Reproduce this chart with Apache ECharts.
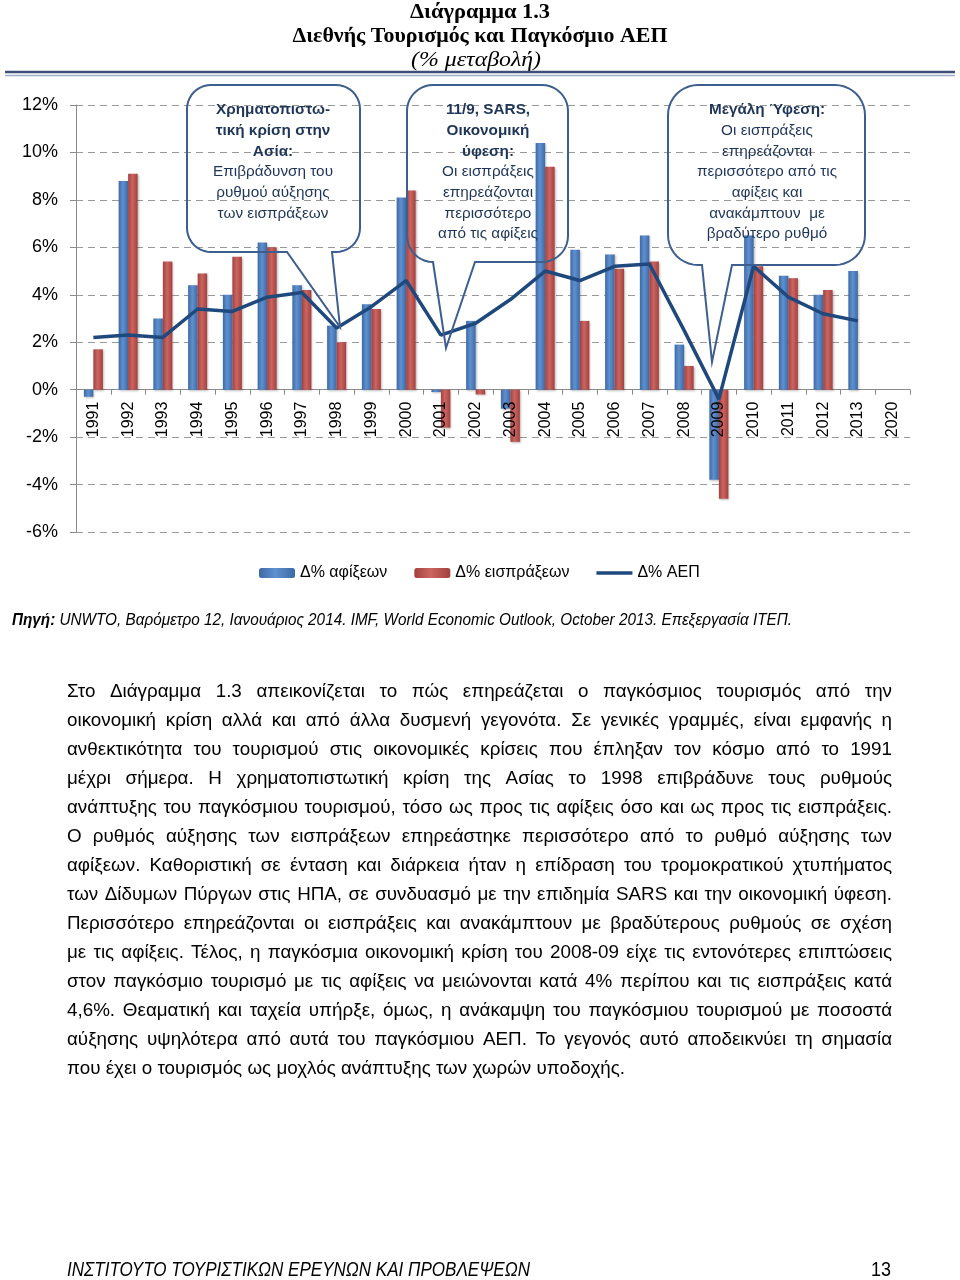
<!DOCTYPE html>
<html><head><meta charset="utf-8">
<script src="https://cdn.jsdelivr.net/npm/echarts@6/dist/echarts.min.js"></script>
<style>html,body{margin:0;padding:0;background:#fff}#c{width:960px;height:1280px}</style>
</head><body><div id="c"></div>
<script>
// ---------- DATA ----------
const years = ['1991','1992','1993','1994','1995','1996','1997','1998','1999','2000','2001','2002','2003','2004','2005','2006','2007','2008','2009','2010','2011','2012','2013','2020'];
const arrivals = [-0.3, 8.8, 3.0, 4.4, 4.0, 6.2, 4.4, 2.7, 3.6, 8.1, -0.1, 2.9, -0.8, 10.4, 5.9, 5.7, 6.5, 1.9, -3.8, 6.5, 4.8, 4.0, 5.0, null];
const receipts = [1.7, 9.1, 5.4, 4.9, 5.6, 6.0, 4.2, 2.0, 3.4, 8.4, -1.6, -0.2, -2.2, 9.4, 2.9, 5.1, 5.4, 1.0, -4.6, 5.2, 4.7, 4.2, null, null];
const gdp = [2.2, 2.3, 2.2, 3.4, 3.3, 3.9, 4.1, 2.6, 3.5, 4.6, 2.3, 2.8, 3.8, 5.0, 4.6, 5.2, 5.3, 2.5, -0.4, 5.2, 3.9, 3.2, 2.9, null];
const seriesNames = ['Δ% αφίξεων', 'Δ% εισπράξεων', 'Δ% ΑΕΠ'];
const yMin = -6, yMax = 12, yStep = 2;

const titleLines = ['Διάγραμμα 1.3', 'Διεθνής Τουρισμός και Παγκόσμιο ΑΕΠ', '(% μεταβολή)'];
const callout1 = [['Χρηματοπιστω-', 1], ['τική κρίση στην', 1], ['Ασία:', 1], ['Επιβράδυνση του', 0], ['ρυθμού αύξησης', 0], ['των εισπράξεων', 0]];
const callout2 = [['11/9, SARS,', 1], ['Οικονομική', 1], ['ύφεση:', 1], ['Οι εισπράξεις', 0], ['επηρεάζονται', 0], ['περισσότερο', 0], ['από τις αφίξεις', 0]];
const callout3 = [['Μεγάλη Ύφεση:', 1], ['Οι εισπράξεις', 0], ['επηρεάζονται', 0], ['περισσότερο από τις', 0], ['αφίξεις και', 0], ['ανακάμπτουν  με', 0], ['βραδύτερο ρυθμό', 0]];
const sourceBold = 'Πηγή:';
const sourceRest = ' UNWTO, Βαρόμετρο 12, Ιανουάριος 2014. IMF, World Economic Outlook, October 2013. Επεξεργασία ΙΤΕΠ.';
const bodyLines = [
 'Στο Διάγραμμα 1.3 απεικονίζεται το πώς επηρεάζεται ο παγκόσμιος τουρισμός από την',
 'οικονομική κρίση αλλά και από άλλα δυσμενή γεγονότα. Σε γενικές γραμμές, είναι εμφανής η',
 'ανθεκτικότητα του τουρισμού στις οικονομικές κρίσεις που έπληξαν τον κόσμο από το 1991',
 'μέχρι σήμερα. Η χρηματοπιστωτική κρίση της Ασίας το 1998 επιβράδυνε τους ρυθμούς',
 'ανάπτυξης του παγκόσμιου τουρισμού, τόσο ως προς τις αφίξεις όσο και ως προς τις εισπράξεις.',
 'Ο ρυθμός αύξησης των εισπράξεων επηρεάστηκε περισσότερο από το ρυθμό αύξησης των',
 'αφίξεων. Καθοριστική σε ένταση και διάρκεια ήταν η επίδραση του τρομοκρατικού χτυπήματος',
 'των Δίδυμων Πύργων στις ΗΠΑ, σε συνδυασμό με την επιδημία SARS και την οικονομική ύφεση.',
 'Περισσότερο επηρεάζονται οι εισπράξεις και ανακάμπτουν με βραδύτερους ρυθμούς σε σχέση',
 'με τις αφίξεις. Τέλος, η παγκόσμια οικονομική κρίση του 2008-09 είχε τις εντονότερες επιπτώσεις',
 'στον παγκόσμιο τουρισμό με τις αφίξεις να μειώνονται κατά 4% περίπου και τις εισπράξεις κατά',
 '4,6%. Θεαματική και ταχεία υπήρξε, όμως, η ανάκαμψη του παγκόσμιου τουρισμού με ποσοστά',
 'αύξησης υψηλότερα από αυτά του παγκόσμιου ΑΕΠ. Το γεγονός αυτό αποδεικνύει τη σημασία',
 'που έχει ο τουρισμός ως μοχλός ανάπτυξης των χωρών υποδοχής.'
];
const footerLeft = 'ΙΝΣΤΙΤΟΥΤΟ ΤΟΥΡΙΣΤΙΚΩΝ ΕΡΕΥΝΩΝ ΚΑΙ ΠΡΟΒΛΕΨΕΩΝ';
const footerRight = '13';

// ---------- HELPERS ----------
const SANS = '"Liberation Sans Narrow", "Liberation Sans", sans-serif';
const AXF = '"Liberation Sans", sans-serif';
const SERIF = '"Liberation Serif", serif';
const ctx = document.createElement('canvas').getContext('2d');
function tw(text, size, family, weight, style) {
  ctx.font = (style || 'normal') + ' ' + (weight || 'normal') + ' ' + size + 'px ' + family;
  return ctx.measureText(text).width;
}
function fitText(text, x, y, target, size, family, weight, style, align, fill) {
  const w = tw(text, size, family, weight, style);
  return { type: 'text', x: x, y: y, scaleX: target / w, z: 100,
    style: { text: text, fontSize: size, fontFamily: family, fontWeight: weight || 'normal', fontStyle: style || 'normal',
      fill: fill || '#000', align: align || 'left', verticalAlign: 'middle' } };
}
function arcPts(cx, cy, r, a0, a1) {
  const pts = [];
  for (let k = 0; k <= 10; k++) {
    const a = a0 + (a1 - a0) * k / 10;
    pts.push([cx + r * Math.cos(a), cy + r * Math.sin(a)]);
  }
  return pts;
}
function calloutPts(x0, y0, x1, y1, r, pL, pR, tx, ty) {
  const P = Math.PI;
  let pts = [[pL, y1], [x0 + r, y1]];
  pts = pts.concat(arcPts(x0 + r, y1 - r, r, P / 2, P));
  pts.push([x0, y0 + r]);
  pts = pts.concat(arcPts(x0 + r, y0 + r, r, P, 1.5 * P));
  pts.push([x1 - r, y0]);
  pts = pts.concat(arcPts(x1 - r, y0 + r, r, 1.5 * P, 2 * P));
  pts.push([x1, y1 - r]);
  pts = pts.concat(arcPts(x1 - r, y1 - r, r, 0, P / 2));
  pts.push([pR, y1], [tx, ty]);
  return pts;
}

const graphics = [];
// Title
graphics.push(fitText(titleLines[0], 480, 12, 140, 22, SERIF, 'bold', 'normal', 'center', '#000'));
graphics.push(fitText(titleLines[1], 480, 36, 375, 22, SERIF, 'bold', 'normal', 'center', '#000'));
graphics.push(fitText(titleLines[2], 476, 60, 130, 22, SERIF, 'normal', 'italic', 'center', '#000'));
graphics.push({ type: 'line', shape: { x1: 5, y1: 72, x2: 955, y2: 72 }, style: { stroke: '#3e4f7a', lineWidth: 2.5 }, z: 100 });
graphics.push({ type: 'line', shape: { x1: 5, y1: 75.5, x2: 955, y2: 75.5 }, style: { stroke: '#9eabc8', lineWidth: 1.5 }, z: 100 });

// Callouts
const cSize = 15;
const cScale = 120 / tw('Επιβράδυνση του', cSize, SANS);
function calloutText(lines, cx) {
  lines.forEach((l, i) => {
    graphics.push({ type: 'text', x: cx, y: 110 + i * 20.7, scaleX: cScale, z: 101,
      style: { text: l[0], fontSize: cSize, fontFamily: SANS, fontWeight: l[1] ? 'bold' : 'normal',
        fill: '#1f3558', align: 'center', verticalAlign: 'middle' } });
  });
}
const cStyle = { fill: 'rgba(0,0,0,0)', stroke: '#3d5f8f', lineWidth: 2 };
graphics.push({ type: 'polygon', z: 100, shape: { points: calloutPts(187, 85, 360, 252, 24, 287, 332, 340, 327) }, style: cStyle });
graphics.push({ type: 'polygon', z: 100, shape: { points: calloutPts(407, 85, 568, 262, 26, 433, 475, 446, 348) }, style: cStyle });
graphics.push({ type: 'polygon', z: 100, shape: { points: calloutPts(668, 85, 865, 265, 30, 702, 732, 712, 362) }, style: cStyle });
calloutText(callout1, 273);
calloutText(callout2, 488);
calloutText(callout3, 767);

// Source line
(function () {
  const size = 16;
  const wb = tw(sourceBold, size, SANS, 'bold', 'italic');
  const wr = tw(sourceRest, size, SANS, 'normal', 'italic');
  graphics.push({ type: 'text', x: 12, y: 621, scaleX: 780 / (wb + wr), z: 100,
    style: { text: '{b|' + sourceBold + '}' + sourceRest, fontSize: size, fontFamily: SANS, fontStyle: 'italic', fill: '#000',
      verticalAlign: 'middle', rich: { b: { fontWeight: 'bold', fontStyle: 'italic', fontSize: size, fontFamily: SANS, fill: '#000' } } } });
})();

// Body (justified)
(function () {
  const size = 19, left = 67, right = 892, W = right - left;
  const last = bodyLines[bodyLines.length - 1];
  const s0 = 558 / tw(last, size, SANS);
  const spaceW = tw(' ', size, SANS);
  bodyLines.forEach((line, i) => {
    const y = 692 + i * 29;
    const words = line.split(/\s+/);
    const ws = words.map(w => tw(w, size, SANS));
    const sum = ws.reduce((a, b) => a + b, 0);
    const isLast = i === bodyLines.length - 1;
    let s = s0;
    const natural = (sum + spaceW * (words.length - 1)) * s;
    if (natural > W) s = W / (sum + spaceW * (words.length - 1));
    const gap = isLast ? spaceW * s : (W - sum * s) / (words.length - 1);
    let x = left;
    words.forEach((w, k) => {
      graphics.push({ type: 'text', x: x, y: y, scaleX: s, z: 100,
        style: { text: w, fontSize: size, fontFamily: SANS, fill: '#000', align: 'left', verticalAlign: 'middle' } });
      x += ws[k] * s + gap;
    });
  });
})();

// Footer
graphics.push(fitText(footerLeft, 67, 1270, 463, 20, SANS, 'normal', 'italic', 'left', '#000'));
graphics.push(fitText(footerRight, 891, 1270, 20, 20, SANS, 'normal', 'normal', 'right', '#000'));

// ---------- CHART ----------
function barGrad(edge, mid) {
  return new echarts.graphic.LinearGradient(0, 0, 1, 0, [
    { offset: 0, color: edge }, { offset: 0.45, color: mid }, { offset: 1, color: edge }]);
}
const chart = echarts.init(document.getElementById('c'), null, { renderer: 'canvas' });
chart.setOption({
  animation: false,
  backgroundColor: '#fff',
  grid: { left: 76, right: 50, top: 105, bottom: 748, containLabel: false },
  legend: {
    data: [
      { name: seriesNames[0] },
      { name: seriesNames[1] },
      { name: seriesNames[2], icon: 'path://M0,0M0,10M0,3.3L36,3.3L36,6.7L0,6.7Z' }
    ],
    left: 254, top: 560, itemWidth: 36, itemHeight: 10, itemGap: 27,
    textStyle: { fontSize: 16, fontFamily: SANS, color: '#000' }
  },
  xAxis: {
    type: 'category', data: years,
    axisLine: { onZero: true, lineStyle: { color: '#8a8a8a', width: 1 } },
    axisTick: { show: true, length: 5, lineStyle: { color: '#8a8a8a' } },
    axisLabel: { show: false },
    splitLine: { show: false }
  },
  yAxis: {
    type: 'value', min: yMin, max: yMax, interval: yStep,
    axisLine: { show: true, lineStyle: { color: '#8a8a8a' } },
    axisTick: { show: true, length: 6, lineStyle: { color: '#8a8a8a' } },
    axisLabel: { formatter: '{value}%', fontSize: 18, fontFamily: AXF, color: '#000', margin: 18 },
    splitLine: { show: true, lineStyle: { color: '#9a9a9a', type: [7, 5], width: 1 } }
  },
  series: [
    { name: seriesNames[0], type: 'bar', data: arrivals, barWidth: 9.5, barGap: '0%',
      itemStyle: { color: barGrad('#3d6aa6', '#5f90cf'), shadowColor: 'rgba(0,0,0,0.25)', shadowBlur: 2, shadowOffsetX: 1, shadowOffsetY: 1 } },
    { name: seriesNames[1], type: 'bar', data: receipts, barWidth: 9.5, barGap: '0%',
      itemStyle: { color: barGrad('#a3403d', '#cb6562'), shadowColor: 'rgba(0,0,0,0.25)', shadowBlur: 2, shadowOffsetX: 1, shadowOffsetY: 1 } },
    { name: seriesNames[2], type: 'line', data: gdp, symbol: 'none', showSymbol: false, z: 5,
      lineStyle: { color: '#1f497d', width: 3.5 }, itemStyle: { color: '#1f497d' } },
    { name: 'xlabels', type: 'custom', silent: true, z: 6,
      data: years.map((y, i) => [i, 0]),
      encode: { x: 0, y: 1 },
      renderItem: function (params, api) {
        const p = api.coord([api.value(0), 0]);
        return { type: 'text', x: p[0], y: p[1] + 12, rotation: Math.PI / 2,
          style: { text: years[params.dataIndex], align: 'right', verticalAlign: 'middle',
            fontSize: 16, fontFamily: AXF, fill: '#000' } };
      } }
  ],
  graphic: graphics
});
</script>
</body></html>
